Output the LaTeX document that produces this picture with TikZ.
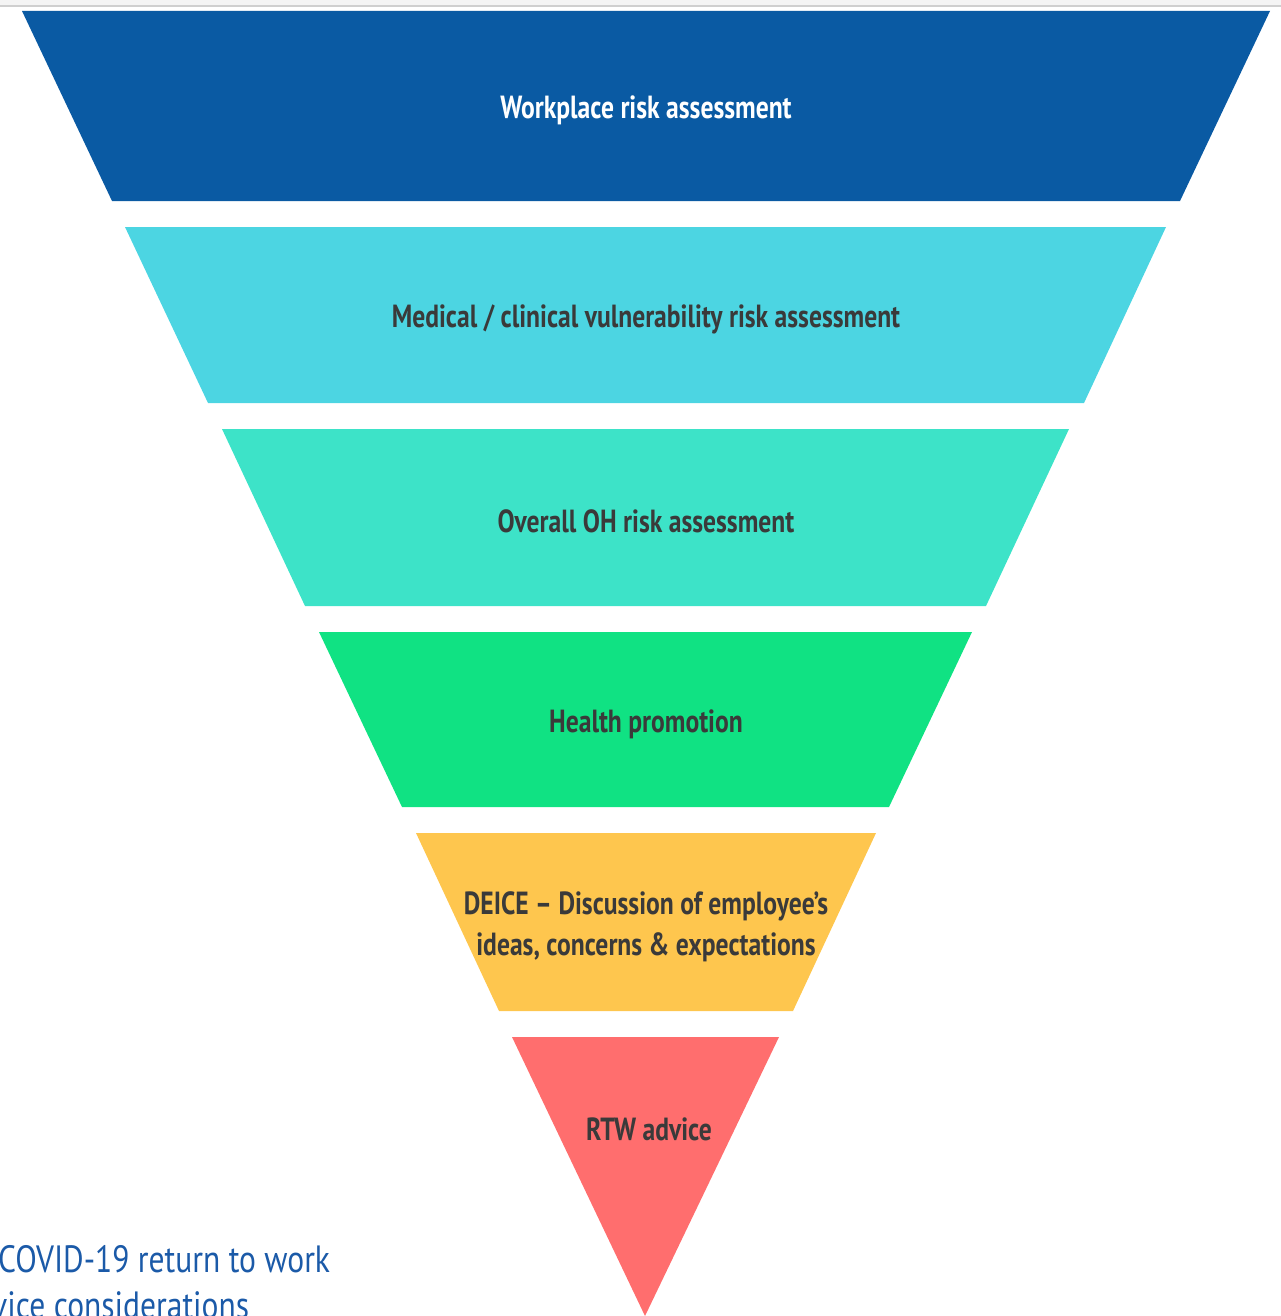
\documentclass[tikz,border=0pt]{standalone}
\usepackage{fontspec}
\newfontfamily\bandfont{PT Sans}[FakeStretch=0.8]
\newfontfamily\capfont{PT Sans}[FakeStretch=0.83]
\definecolor{cblue}{HTML}{0A5AA3}
\definecolor{ccyan}{HTML}{4CD5E2}
\definecolor{cteal}{HTML}{3DE3C8}
\definecolor{cgreen}{HTML}{10E283}
\definecolor{cyellow}{HTML}{FEC64E}
\definecolor{cred}{HTML}{FF6E6E}
\definecolor{ctext}{HTML}{3A3A3A}
\definecolor{ccap}{HTML}{1B5AA8}
\definecolor{ctopbg}{HTML}{F4F4F4}
\definecolor{ctopline}{HTML}{CFCFCF}
\tikzset{
  bandlabel/.style={text=ctext, font=\bandfont\bfseries\fontsize{32}{41}\selectfont, align=center, inner sep=0pt},
  caplabel/.style={text=ccap, font=\capfont\fontsize{38}{44}\selectfont, anchor=base west, inner sep=0pt}
}
\begin{document}
\begin{tikzpicture}[x=1pt,y=-1pt]
\useasboundingbox (0,0) rectangle (1281,1316);
\clip (0,0) rectangle (1281,1316);
\fill[ctopbg] (0,0) rectangle (1281,5);
\draw[ctopline, line width=2pt] (0,6) -- (1281,6);
\fill[cblue]   (22,11)  -- (1270,11)  -- (1180,201)  -- (112,201) -- cycle;
\fill[ccyan]   (125,227) -- (1166,227) -- (1084,403) -- (208,403) -- cycle;
\fill[cteal]   (222,429) -- (1069,429) -- (986,606)  -- (305,606) -- cycle;
\fill[cgreen]  (319,632) -- (972,632)  -- (889,807)  -- (402,807) -- cycle;
\fill[cyellow] (416,833) -- (876,833)  -- (793,1011) -- (499,1011) -- cycle;
\fill[cred]    (512,1037) -- (779,1037) -- (645,1316) -- cycle;
\node[bandlabel, text=white] (l1) at (646,110) {Workplace risk assessment};
\node[bandlabel] (l2) at (646,319) {Medical / clinical vulnerability risk assessment};
\node[bandlabel] (l3) at (646,521) {Overall OH risk assessment};
\node[bandlabel] (l4) at (646,724) {Health promotion};
\node[bandlabel] (l5) at (646,927) {DEICE – Discussion of employee’s\\ideas, concerns \& expectations};
\node[bandlabel] (l6) at (649,1129) {RTW advice};
\node[caplabel] (c1) at (-2,1272) {COVID-19 return to work};
\node[caplabel] (c2) at (-8,1318) {vice considerations};
\end{tikzpicture}
\end{document}
